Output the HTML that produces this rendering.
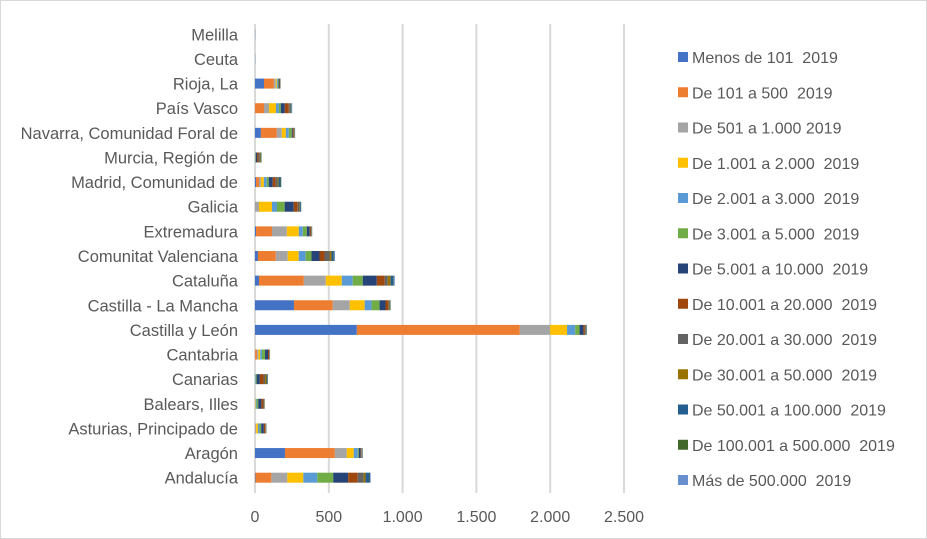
<!DOCTYPE html>
<html><head><meta charset="utf-8"><style>
html,body{margin:0;padding:0;background:#fff;}
svg{display:block;font-family:"Liberation Sans",Arial,sans-serif;}
text{white-space:pre;}
</style></head><body>
<svg id="chart" width="927" height="539">
<rect x="0.5" y="0.5" width="926" height="538" fill="#fff" stroke="#d9d9d9"/>
<g id="grid"></g>
<g id="bars"></g>
<g id="ylab"></g>
<g id="xlab"></g>
<g id="legend"></g>
</svg>
<script>
const categories=["Andalucía","Aragón","Asturias, Principado de","Balears, Illes","Canarias","Cantabria","Castilla y León","Castilla - La Mancha","Cataluña","Comunitat Valenciana","Extremadura","Galicia","Madrid, Comunidad de","Murcia, Región de","Navarra, Comunidad Foral de","País Vasco","Rioja, La","Ceuta","Melilla"];
const seriesNames=["Menos de 101  2019","De 101 a 500  2019","De 501 a 1.000 2019","De 1.001 a 2.000  2019","De 2.001 a 3.000  2019","De 3.001 a 5.000  2019","De 5.001 a 10.000  2019","De 10.001 a 20.000  2019","De 20.001 a 30.000  2019","De 30.001 a 50.000  2019","De 50.001 a 100.000  2019","De 100.001 a 500.000  2019","Más de 500.000  2019"];
const values=[
[3,108,108,108,95,108,101,65,40,13,27,4,4],
[203,338,81,47,27,7,13,4,2,2,2,3,2],
[0,2,6,12,10,12,18,10,3,1,2,2,0],
[0,0,1,4,6,11,21,14,5,3,1,0,1],
[0,0,0,1,4,6,22,25,10,10,6,3,1],
[1,12,10,12,12,21,20,8,3,1,1,1,0],
[690,1104,205,115,55,30,26,10,5,1,4,3,0],
[264,263,115,101,47,54,40,20,3,5,5,2,0],
[27,304,149,108,74,68,95,54,20,20,16,4,8],
[20,121,81,74,47,40,54,34,34,13,13,4,7],
[7,108,101,81,27,27,20,8,2,1,2,3,1],
[0,0,27,88,34,52,61,27,13,3,6,2,0],
[7,20,13,20,20,13,27,20,13,7,13,4,2],
[0,0,0,1,2,3,8,10,9,5,4,2,1],
[40,108,34,27,20,20,7,7,3,1,2,2,1],
[0,61,34,47,20,13,27,27,7,4,6,3,3],
[61,67,13,7,7,5,6,3,2,1,0,1,1],
[0,0,0,0,0,0,0,0,0,0,1,0,0],
[0,0,0,0,0,0,0,0,0,0,1,0,0]];
const ticks=[0,500,1000,1500,2000,2500];
const tickLabels=["0","500","1.000","1.500","2.000","2.500"];
const colors=["#4472C4","#ED7D31","#A5A5A5","#FFC000","#5B9BD5","#70AD47","#264478","#9E480E","#636363","#997300","#255E91","#43682B","#698ED0"];
const NS="http://www.w3.org/2000/svg";
const x0=255,x1=624,xmax=2500;
const xs=v=>x0+v/xmax*(x1-x0);
const yTop=22,yBot=490,n=categories.length,band=(yBot-yTop)/n;
const yc=i=>yBot-band*(i+0.5);
function mk(t,a,p){const e=document.createElementNS(NS,t);for(const k in a)e.setAttribute(k,a[k]);p.appendChild(e);return e;}
const g=document.getElementById('grid');
ticks.forEach((t,i)=>{
 const l=mk('line',{x1:xs(t),x2:xs(t),y1:24,y2:493,stroke:'#d9d9d9','stroke-width':2},g);
 
 
 const tx=mk('text',{x:xs(t),y:522,'text-anchor':'middle','font-size':16,fill:'#595959'},document.getElementById('xlab'));
 tx.textContent=tickLabels[i];
 
 
});
const bg=document.getElementById('bars'),yl=document.getElementById('ylab');
categories.forEach((c,i)=>{
 let acc=0;
 values[i].forEach((v,s)=>{
  const r=mk('rect',{x:xs(acc),y:yc(i)-5,width:Math.max(0,xs(acc+v)-xs(acc)),height:10,fill:colors[s]},bg);
  
  
  acc+=v;
 });
 const t=mk('text',{x:238,y:yc(i)+6,'text-anchor':'end','font-size':16.5,fill:'#595959'},yl);
 t.textContent=c;
 
 
});
const lg=document.getElementById('legend');
seriesNames.forEach((s,i)=>{
 const y=57+i*35.25;
 const r=mk('rect',{x:678,y:y-5,width:10,height:10,fill:colors[i]},lg);
 
 
 const t=mk('text',{x:692,y:y+6,'font-size':16,fill:'#595959'},lg);
 t.textContent=s;
 
 
});
</script>
</body></html>
